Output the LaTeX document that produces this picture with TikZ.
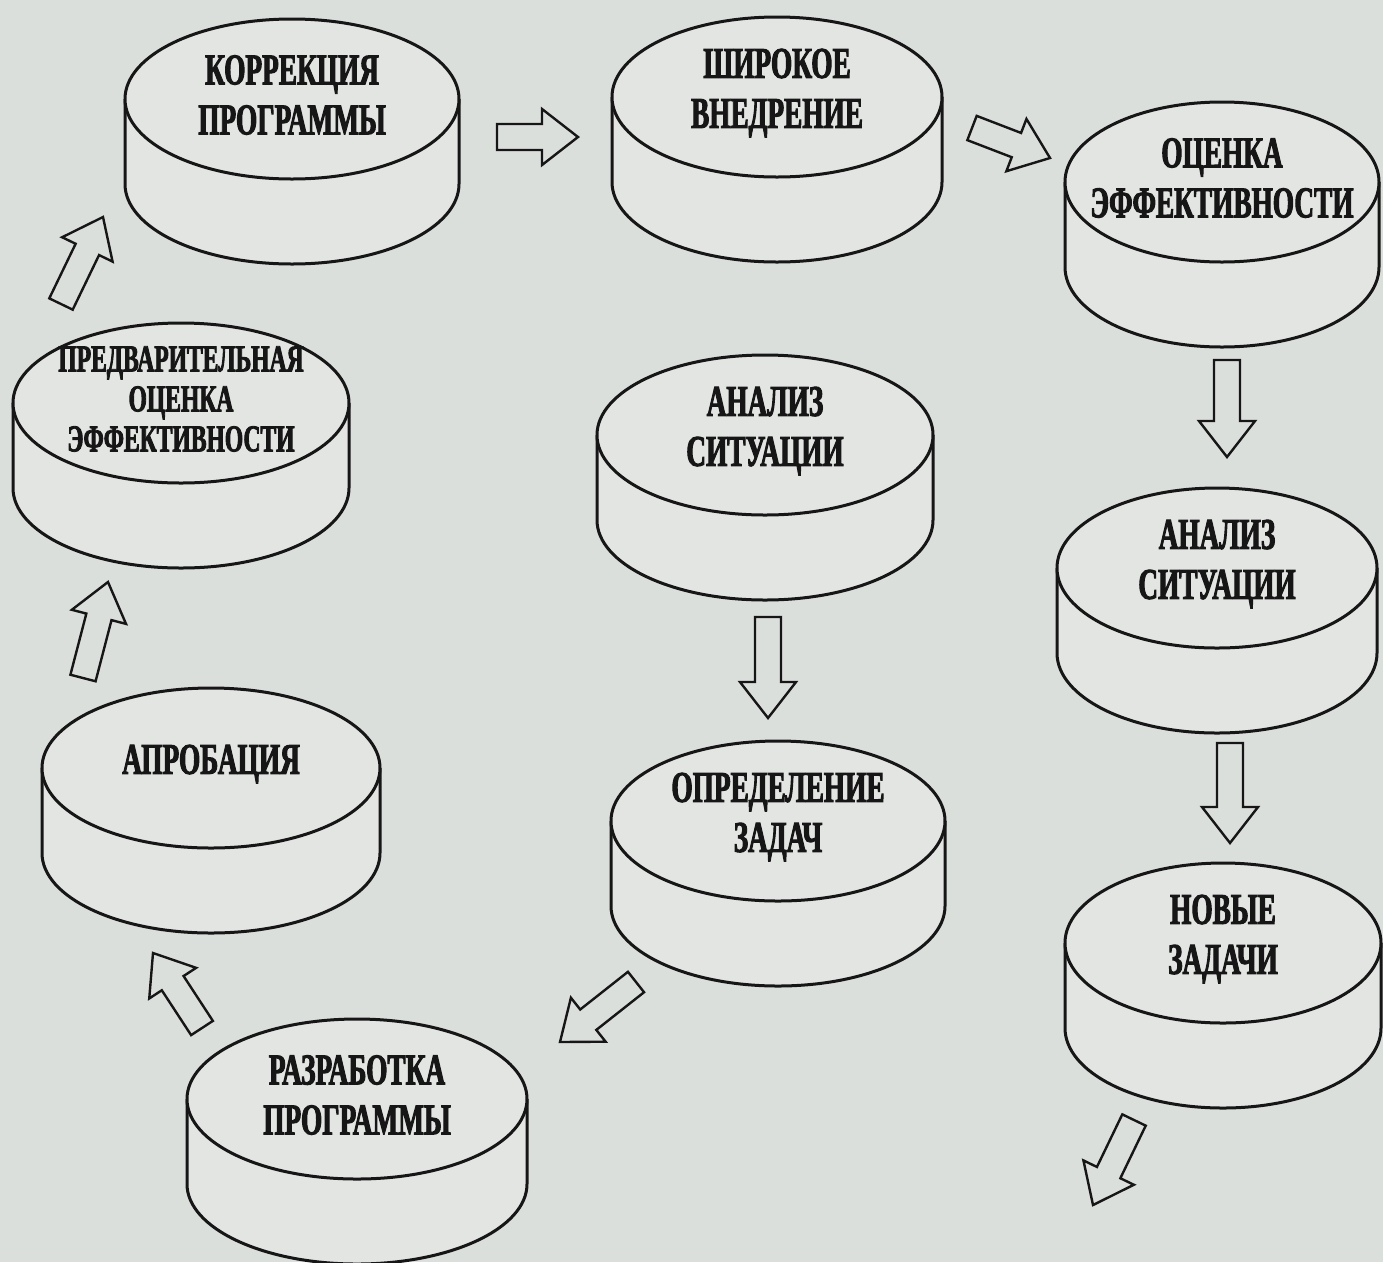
\documentclass[tikz,border=0pt]{standalone}
\usepackage{fontspec}
\usetikzlibrary{calc}
\newfontfamily\discfont[FakeStretch=0.62, FakeBold=2.2]{Liberation Serif Bold}
\definecolor{paper}{RGB}{219,223,220}
\definecolor{discface}{RGB}{226,229,226}
\definecolor{ink}{RGB}{22,22,22}
\newcommand{\bigdisc}  {\discfont\fontsize{44}{50}\selectfont}
\newcommand{\smalldisc}{\discfont\fontsize{38}{40}\selectfont}
\newcommand{\disc}[6][]{%
  \fill[discface] (#3-#5,#4) -- (#3-#5,#4+85)
     arc[start angle=180, end angle=360, x radius=#5pt, y radius=80pt] -- (#3+#5,#4) -- cycle;
  \draw[discline] (#3-#5,#4) -- (#3-#5,#4+85)
     arc[start angle=180, end angle=360, x radius=#5pt, y radius=80pt] -- (#3+#5,#4);
  \draw[discline, fill=discface] (#3,#4) ellipse[x radius=#5pt, y radius=80pt];
  \node[disctext,#1] (#2) at (#3,#4-4) {#6};
}
\tikzset{
  discline/.style={draw=ink, line width=3pt},
  disctext/.style={align=center, inner sep=0pt, text=ink, font=\bigdisc},
  blockarrow/.style={draw=ink, line width=2.4pt, line join=miter,
    to path={let \p1=($(\tikztotarget)!36pt!(\tikztostart)$) in
      ($(\tikztostart)!13pt!90:(\tikztotarget)$) -- ($(\p1)!13pt!90:(\tikztotarget)$)
      -- ($(\p1)!28pt!90:(\tikztotarget)$) -- (\tikztotarget)
      -- ($(\p1)!28pt!-90:(\tikztotarget)$) -- ($(\p1)!13pt!-90:(\tikztotarget)$)
      -- ($(\tikztostart)!13pt!-90:(\tikztotarget)$) -- cycle}}
}
\begin{document}
\begin{tikzpicture}[x=1pt, y=-1pt]
   \useasboundingbox (0,0) rectangle (1383,1262);
   \clip (0,0) rectangle (1383,1262);
   \fill[paper] (0,0) rectangle (1383,1262);

   \disc{korr}   { 292}{  99}{167}{КОРРЕКЦИЯ\\ПРОГРАММЫ}
   \disc{shir}   { 777}{  97}{165}{ШИРОКОЕ\\ВНЕДРЕНИЕ}
   \disc{ocen}   {1222}{ 182}{157}{ОЦЕНКА\\ЭФФЕКТИВНОСТИ}
   \disc[font=\smalldisc]{predv}{ 181}{ 403}{168}{ПРЕДВАРИТЕЛЬНАЯ\\ОЦЕНКА\\ЭФФЕКТИВНОСТИ}
   \disc{anal}   { 765}{ 435}{168}{АНАЛИЗ\\СИТУАЦИИ}
   \disc{analtwo}{1217}{ 568}{160}{АНАЛИЗ\\СИТУАЦИИ}
   \disc{aprob}  { 211}{ 768}{169}{АПРОБАЦИЯ}
   \disc{opred}  { 778}{ 821}{167}{ОПРЕДЕЛЕНИЕ\\ЗАДАЧ}
   \disc{novye}  {1223}{ 943}{158}{НОВЫЕ\\ЗАДАЧИ}
   \disc{razr}   { 357}{1099}{170}{РАЗРАБОТКА\\ПРОГРАММЫ}

   \coordinate (korrout)  at ( 497, 137);   \coordinate (shirin)   at ( 578, 137);
   \coordinate (shirout)  at ( 972, 128);   \coordinate (ocenin)   at (1050, 158);
   \coordinate (ocenout)  at (1227, 360);   \coordinate (analtwoin) at (1227, 457);
   \coordinate (analtwoout) at (1230, 743); \coordinate (novyein)  at (1230, 843);
   \coordinate (novyeout) at (1134, 1120);  \coordinate (novyeend) at (1093, 1205);
   \coordinate (analout)  at ( 768, 617);   \coordinate (opredin)  at ( 768, 718);
   \coordinate (opredout) at ( 636, 982);   \coordinate (razrin)   at ( 560, 1042);
   \coordinate (razrout)  at ( 202, 1028);  \coordinate (aprobin)  at ( 153, 953);
   \coordinate (aprobout) at (  83, 678);   \coordinate (predvin)  at ( 108, 582);
   \coordinate (predvout) at (  61, 304);   \coordinate (korrin)   at ( 103, 217);

   \draw[blockarrow] (korrout)    to (shirin);
   \draw[blockarrow] (shirout)    to (ocenin);
   \draw[blockarrow] (ocenout)    to (analtwoin);
   \draw[blockarrow] (analtwoout) to (novyein);
   \draw[blockarrow] (novyeout)   to (novyeend);
   \draw[blockarrow] (analout)    to (opredin);
   \draw[blockarrow] (opredout)   to (razrin);
   \draw[blockarrow] (razrout)    to (aprobin);
   \draw[blockarrow] (aprobout)   to (predvin);
   \draw[blockarrow] (predvout)   to (korrin);
\end{tikzpicture}
\end{document}
